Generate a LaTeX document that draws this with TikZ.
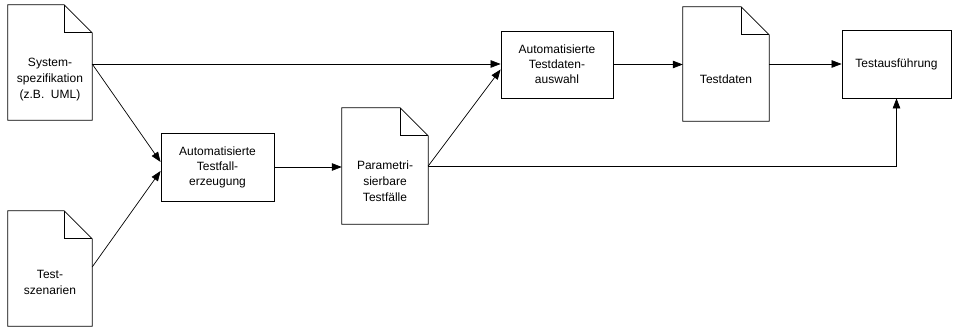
\documentclass[tikz,border=0pt]{standalone}
\usepackage{fontspec}
\setmainfont{Liberation Sans}
\usetikzlibrary{arrows.meta}
\tikzset{
  shapebox/.style={draw, line width=0.8pt, rectangle, inner sep=0pt, align=center,
    font=\fontsize{12}{15}\selectfont},
  docnode/.style={rectangle, inner sep=0pt},
  doctext/.style={align=center, inner sep=0pt, font=\fontsize{12}{16}\selectfont},
  conn/.style={line width=0.7pt},
  arr/.style={conn, -{Triangle[length=10pt,width=7.5pt]}}
}
\newcommand{\docoutline}[1]{%
  \draw[line width=0.8pt] (#1.south west) -- (#1.north west) -- ([xshift=-28pt]#1.north east)
    -- ([yshift=-28pt]#1.north east) -- (#1.south east) -- cycle;
  \draw[line width=0.8pt] ([xshift=-28pt]#1.north east) |- ([yshift=-28pt]#1.north east);
}
\begin{document}
\begin{tikzpicture}[x=1pt,y=-1pt]
\useasboundingbox (0,0) rectangle (955,328);
% documents
\node[docnode, minimum width=84pt, minimum height=115pt] (d1) at (50,62.5) {};
\node[docnode, minimum width=84pt, minimum height=115pt] (d2) at (50,268.5) {};
\node[docnode, minimum width=86pt, minimum height=116pt] (d3) at (385,166) {};
\node[docnode, minimum width=86pt, minimum height=114pt] (d4) at (726,64) {};
\docoutline{d1}
\docoutline{d2}
\docoutline{d3}
\docoutline{d4}
\node[doctext] (t1) at ([yshift=-17pt]d1.center) {System-\\spezifikation\\(z.B.~~UML)};
\node[doctext] (t2) at ([yshift=-14pt]d2.center) {Test-\\szenarien};
\node[doctext] (t3) at ([yshift=-15pt]d3.center) {Parametri-\\sierbare\\Testfälle};
\node[doctext] (t4) at ([yshift=-15pt]d4.center) {Testdaten};
% boxes
\node[shapebox, minimum width=113pt, minimum height=68pt] (b1) at (217.5,167) {Automatisierte\\Testfall-\\erzeugung};
\node[shapebox, minimum width=112pt, minimum height=67pt] (b2) at (557,64.5) {Automatisierte\\Testdaten-\\auswahl};
\node[shapebox, minimum width=109pt, minimum height=68pt] (b3) at (896.5,64) {Testausführung};
% connectors
\draw[arr] ([yshift=-1.5pt]d1.east) -- ([yshift=-1.5pt]d1.east -| b2.west);
\draw[arr] ([yshift=-1.5pt]d1.east) -- ([yshift=5pt]b1.west);
\draw[arr] ([yshift=1.5pt]d2.east) -- ([yshift=-4pt]b1.west);
\draw[arr] (b1.east) -- (b1.east -| d3.west);
\draw[arr] (d3.east) -- ([yshift=-5pt]b2.west);
\draw[arr] (d3.east) -| (b3.south);
\draw[arr] (b2.east) -- (b2.east -| d4.west);
\draw[arr] (d4.east) -- (d4.east -| b3.west);
\end{tikzpicture}
\end{document}
